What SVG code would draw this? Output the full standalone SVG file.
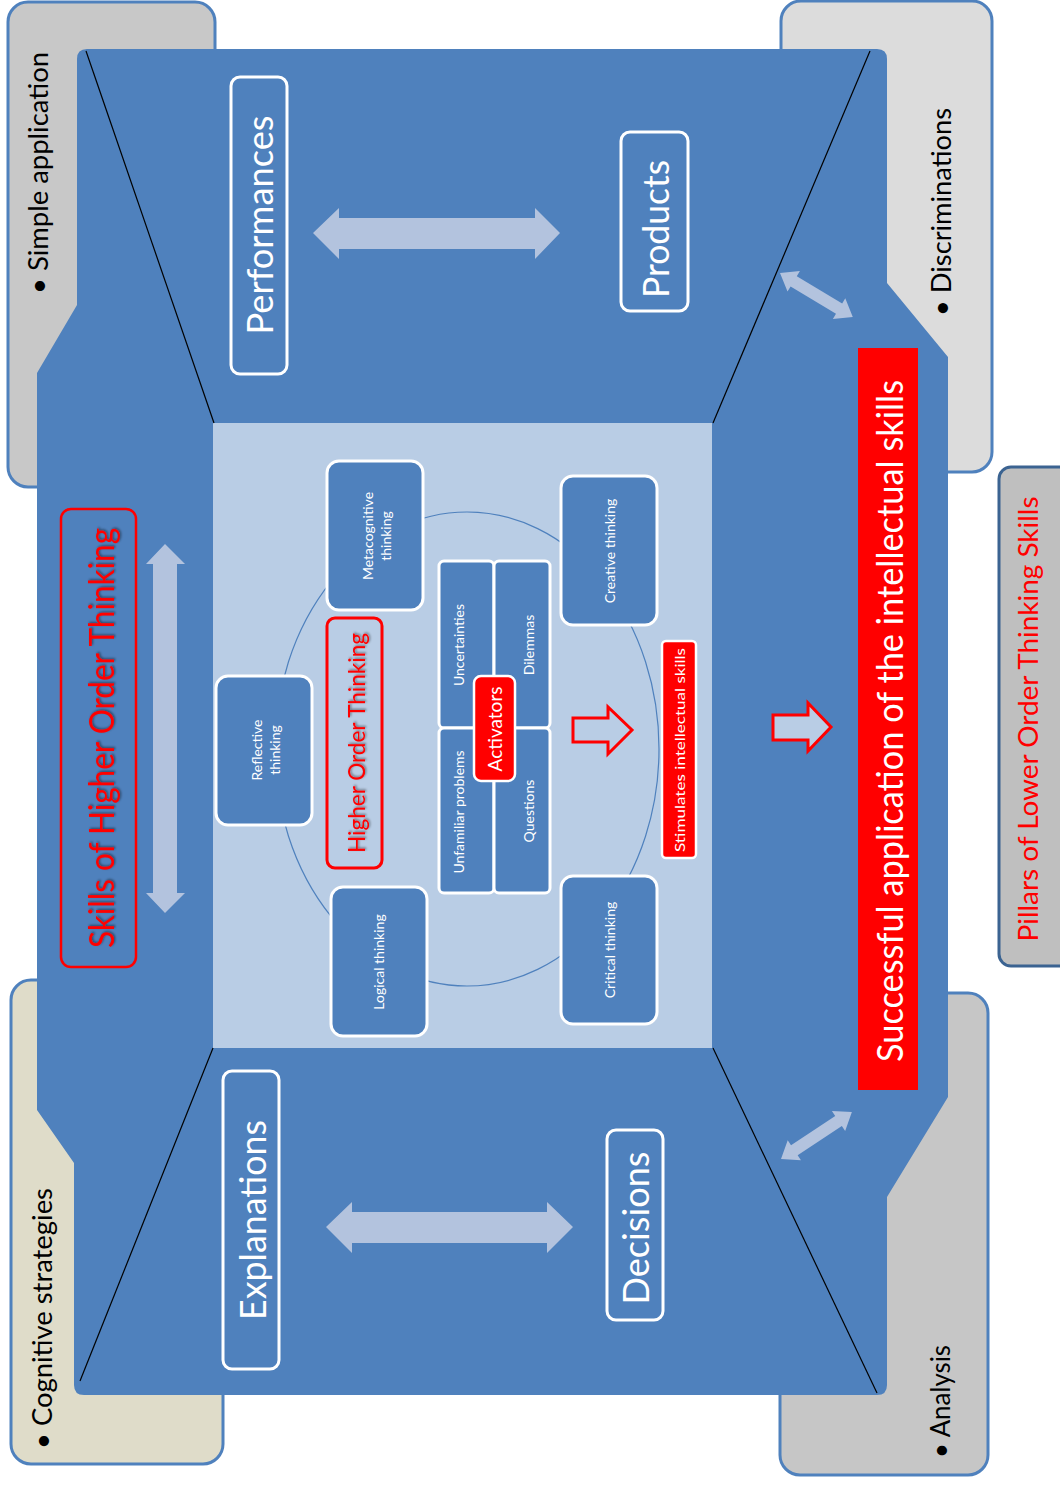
<svg xmlns="http://www.w3.org/2000/svg" width="1060" height="1485" viewBox="0 0 1060 1485">
<defs>
<style>
.t{font-family:Lato,"Open Sans","Liberation Sans",sans-serif;}
.w{fill:#ffffff;}
.k{fill:#000000;}
.r{fill:#ff0000;}
.pill{stroke:#4f81bd;stroke-width:3;}
.nb{fill:#4f81bd;stroke:#ffffff;stroke-width:3;}
.big{fill:none;stroke:#ffffff;stroke-width:3;}
.la{fill:#b3c3de;}
.ra{fill:#b9cde5;stroke:#ff0000;stroke-width:3;stroke-linejoin:miter;}
.diag{stroke:#000000;stroke-width:1.2;fill:none;}
</style>
<filter id="sh" x="-10%" y="-30%" width="120%" height="160%">
<feDropShadow dx="1.2" dy="1.2" stdDeviation="0.8" flood-color="#000000" flood-opacity="0.45"/>
</filter>
</defs>
<rect width="1060" height="1485" fill="#ffffff"/>

<g id="pillar-simple-application">
<rect class="pill" x="8" y="2" width="207" height="485" rx="20" fill="#c8c8c8"/>
<text class="t k" font-size="27" transform="translate(37,294) rotate(-90)" dominant-baseline="central" textLength="242" lengthAdjust="spacingAndGlyphs">• Simple application</text>
</g>
<g id="pillar-discriminations">
<rect class="pill" x="781" y="1" width="211" height="471" rx="20" fill="#dcdcdc"/>
<text class="t k" font-size="27" transform="translate(940,316) rotate(-90)" dominant-baseline="central" textLength="208" lengthAdjust="spacingAndGlyphs">• Discriminations</text>
</g>
<g id="pillar-cognitive-strategies">
<rect class="pill" x="11" y="980" width="212" height="484" rx="20" fill="#dfdcc9"/>
<text class="t k" font-size="27" transform="translate(41,1449) rotate(-90)" dominant-baseline="central" textLength="261" lengthAdjust="spacingAndGlyphs">• Cognitive strategies</text>
</g>
<g id="pillar-analysis">
<rect class="pill" x="780" y="993" width="208" height="482" rx="20" fill="#c6c6c6"/>
<text class="t k" font-size="27" transform="translate(939,1458) rotate(-90)" dominant-baseline="central" textLength="113" lengthAdjust="spacingAndGlyphs">• Analysis</text>
</g>

<g id="main-frame">
<path d="M87,49 L877,49 Q887,49 887,59 L887,283 L948,357 L948,1097 L887,1197 L887,1385 Q887,1395 877,1395 L84,1395 Q74,1395 74,1385 L74,1163 L37,1110 L37,373 L77,305 L77,59 Q77,49 87,49 Z" fill="#4f81bd"/>
<rect x="213" y="423" width="499" height="625" fill="#b9cde5"/>
<line class="diag" x1="86" y1="51" x2="214" y2="423"/>
<line class="diag" x1="870" y1="51" x2="713" y2="423"/>
<line class="diag" x1="213" y1="1048" x2="80" y2="1381"/>
<line class="diag" x1="713" y1="1048" x2="877" y2="1393"/>
</g>

<g id="connectors">
<ellipse cx="467" cy="749" rx="192" ry="237" fill="none" stroke="#4f81bd" stroke-width="1.2"/>
<polygon class="la" points="313,233 339,208 339,218 535,218 535,208 560,233 535,259 535,249 339,249 339,259"/>
<polygon class="la" points="326,1227 352,1202 352,1212 547,1212 547,1202 573,1227 547,1253 547,1243 352,1243 352,1253"/>
<polygon class="la" points="165,544 185,564 177,564 177,893 185,893 165,913 146,893 153,893 153,564 146,564"/>
<polygon class="la" transform="translate(780,273) rotate(31.1)" points="0,0 16,-12 16,-6 69,-6 69,-12 85,0 69,12 69,6 16,6 16,12"/>
<polygon class="la" transform="translate(781,1159) rotate(-33.5)" points="0,0 16,-12 16,-6 69,-6 69,-12 85,0 69,12 69,6 16,6 16,12"/>
<polygon class="ra" points="573,718 608,718 608,707 632,730 608,754 608,742 573,742"/>
<polygon class="ra" points="773,715 808,715 808,703 831,727 808,751 808,740 773,740"/>
</g>

<g id="skills-higher-order">
<rect x="61" y="509" width="75" height="458" rx="10" fill="none" stroke="#ff0000" stroke-width="2.5"/>
<text class="t r" font-size="35" transform="translate(100,738) rotate(-90)" text-anchor="middle" dominant-baseline="central" textLength="420" lengthAdjust="spacingAndGlyphs" filter="url(#sh)">Skills of Higher Order Thinking</text>
</g>

<g id="performances">
<rect class="big" x="231" y="77" width="56" height="297" rx="9"/>
<text class="t w" font-size="36" transform="translate(259,225) rotate(-90)" text-anchor="middle" dominant-baseline="central" textLength="219" lengthAdjust="spacingAndGlyphs">Performances</text>
</g>
<g id="products">
<rect class="big" x="621" y="132" width="67" height="179" rx="9"/>
<text class="t w" font-size="36" transform="translate(655,229) rotate(-90)" text-anchor="middle" dominant-baseline="central" textLength="138" lengthAdjust="spacingAndGlyphs">Products</text>
</g>
<g id="explanations">
<rect class="big" x="223" y="1071" width="56" height="298" rx="9"/>
<text class="t w" font-size="36" transform="translate(252,1220) rotate(-90)" text-anchor="middle" dominant-baseline="central" textLength="200" lengthAdjust="spacingAndGlyphs">Explanations</text>
</g>
<g id="decisions">
<rect class="big" x="607" y="1130" width="56" height="190" rx="9"/>
<text class="t w" font-size="36" transform="translate(635,1228) rotate(-90)" text-anchor="middle" dominant-baseline="central" textLength="153" lengthAdjust="spacingAndGlyphs">Decisions</text>
</g>

<g id="metacognitive-thinking">
<rect class="nb" x="327" y="461" width="96" height="149" rx="12"/>
<text class="t w" font-size="14" transform="translate(375,536) rotate(-90)" text-anchor="middle" dominant-baseline="central"><tspan x="0" dy="-0.6em">Metacognitive</tspan><tspan x="0" dy="1.3em">thinking</tspan></text>
</g>
<g id="reflective-thinking">
<rect class="nb" x="216" y="676" width="96" height="149" rx="12"/>
<text class="t w" font-size="14" transform="translate(264,750) rotate(-90)" text-anchor="middle" dominant-baseline="central"><tspan x="0" dy="-0.6em">Reflective</tspan><tspan x="0" dy="1.3em">thinking</tspan></text>
</g>
<g id="logical-thinking">
<rect class="nb" x="331" y="887" width="96" height="149" rx="12"/>
<text class="t w" font-size="14" transform="translate(378,962) rotate(-90)" text-anchor="middle" dominant-baseline="central">Logical thinking</text>
</g>
<g id="creative-thinking">
<rect class="nb" x="561" y="476" width="96" height="149" rx="12"/>
<text class="t w" font-size="14" transform="translate(609,551) rotate(-90)" text-anchor="middle" dominant-baseline="central">Creative thinking</text>
</g>
<g id="critical-thinking">
<rect class="nb" x="561" y="876" width="96" height="148" rx="12"/>
<text class="t w" font-size="14" transform="translate(609,950) rotate(-90)" text-anchor="middle" dominant-baseline="central">Critical thinking</text>
</g>

<g id="higher-order-thinking">
<rect x="327" y="618" width="55" height="250" rx="8" fill="#b9cde5" stroke="#ff0000" stroke-width="3"/>
<text class="t r" font-size="24" transform="translate(355,743) rotate(-90)" text-anchor="middle" dominant-baseline="central" textLength="220" lengthAdjust="spacingAndGlyphs" filter="url(#sh)">Higher Order Thinking</text>
</g>

<g id="activators-grid">
<rect class="nb" x="439" y="561" width="55" height="167" rx="5"/>
<rect class="nb" x="494" y="561" width="56" height="167" rx="5"/>
<rect class="nb" x="439" y="728" width="55" height="165" rx="5"/>
<rect class="nb" x="494" y="728" width="56" height="165" rx="5"/>
<text class="t w" font-size="14" transform="translate(458,645) rotate(-90)" text-anchor="middle" dominant-baseline="central">Uncertainties</text>
<text class="t w" font-size="14" transform="translate(528,645) rotate(-90)" text-anchor="middle" dominant-baseline="central">Dilemmas</text>
<text class="t w" font-size="14" transform="translate(458,812) rotate(-90)" text-anchor="middle" dominant-baseline="central">Unfamiliar problems</text>
<text class="t w" font-size="14" transform="translate(528,811) rotate(-90)" text-anchor="middle" dominant-baseline="central">Questions</text>
</g>
<g id="activators">
<rect x="474" y="676" width="41" height="105" rx="7" fill="#ff0000" stroke="#ffffff" stroke-width="2.5"/>
<text class="t w" font-size="19" transform="translate(494,729) rotate(-90)" text-anchor="middle" dominant-baseline="central">Activators</text>
</g>

<g id="stimulates">
<rect x="662" y="641" width="34" height="217" rx="4" fill="#ff0000" stroke="#ffffff" stroke-width="2.5"/>
<text class="t w" font-size="14" transform="translate(679,750) rotate(-90)" text-anchor="middle" dominant-baseline="central" textLength="204" lengthAdjust="spacingAndGlyphs">Stimulates intellectual skills</text>
</g>

<g id="successful-application">
<rect x="858" y="348" width="60" height="742" fill="#ff0000"/>
<text class="t w" font-size="36" transform="translate(889,721) rotate(-90)" text-anchor="middle" dominant-baseline="central" textLength="682" lengthAdjust="spacingAndGlyphs">Successful application of the intellectual skills</text>
</g>

<g id="pillars-lower-order">
<rect x="999" y="467" width="80" height="499" rx="12" fill="#bfbfbf" stroke="#3b6391" stroke-width="3"/>
<text class="t r" font-size="27" transform="translate(1027,719) rotate(-90)" text-anchor="middle" dominant-baseline="central" textLength="445" lengthAdjust="spacingAndGlyphs">Pillars of Lower Order Thinking Skills</text>
</g>
</svg>
